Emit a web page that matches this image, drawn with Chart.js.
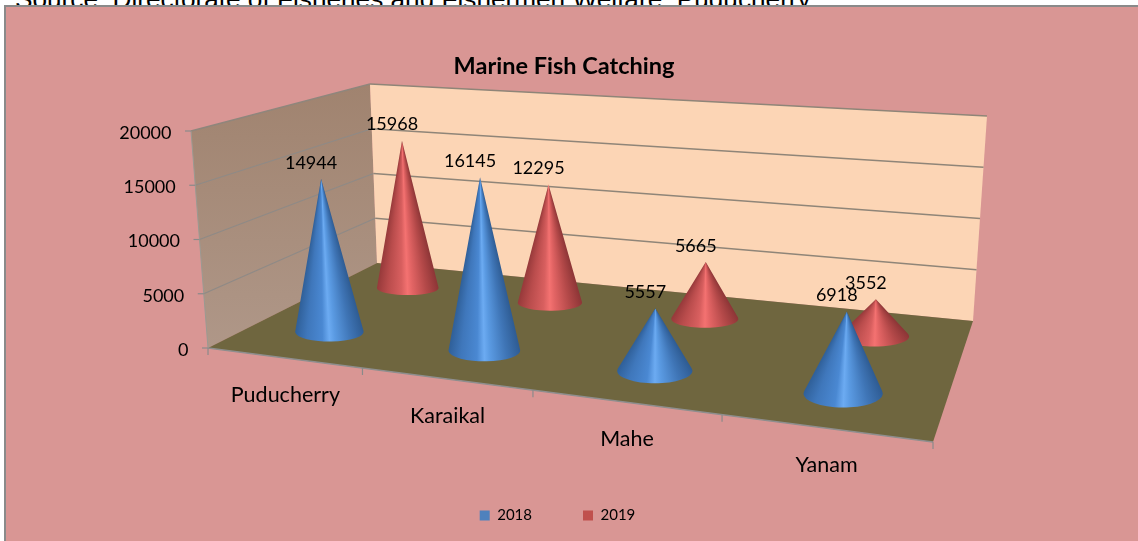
<!DOCTYPE html>
<html><head><meta charset="utf-8">
<script src="https://cdn.jsdelivr.net/npm/chart.js@4"></script>
<style>
html,body{margin:0;padding:0;background:#fff;width:1138px;height:541px;overflow:hidden}
#src{position:absolute;left:15px;top:-16px;font:26.2px "Liberation Sans",Arial,sans-serif;color:#000;white-space:nowrap}
#wrap{position:absolute;left:0;top:0;width:1138px;height:541px}
</style></head><body>
<div id="src">Source: Directorate of Fisheries and Fishermen Welfare, Puducherry</div>
<div id="wrap"><canvas id="c" width="1138" height="541"></canvas></div>
<script>
const categories = ["Puducherry","Karaikal","Mahe","Yanam"];
const seriesNames = ["2018","2019"];
const values2018 = [14944,16145,5557,6918];
const values2019 = [15968,12295,5665,3552];
const yMax = 20000, yStep = 5000;

const FONT = 'Lato, "Open Sans", sans-serif';
const BLUE_STOPS = [[0,'#2f5f98'],[.18,'#3f77bb'],[.4,'#4a88d2'],[.5,'#6cabf2'],[.58,'#5a9ae2'],[.8,'#3f75b6'],[1,'#2e5b92']];
const RED_STOPS  = [[0,'#96393a'],[.18,'#b94c4c'],[.4,'#d85f5f'],[.5,'#f47271'],[.58,'#e26464'],[.8,'#b44949'],[1,'#8c3536']];

// box corners of the 3-D plot frame
const FLOOR = [[208,348],[933,442],[973,321],[377,263]];
const TOP   = [[191,131],[950,175],[987,116],[370,84]];
const VANISH = [615,5575];   // where the verticals of the box meet
const UNIT_HEIGHT = 212;     // full axis height at depth w=1
function homography(q){
  const [p0,p1,p2,p3]=q;
  const dx1=p1[0]-p2[0],dx2=p3[0]-p2[0],sx=p0[0]-p1[0]+p2[0]-p3[0];
  const dy1=p1[1]-p2[1],dy2=p3[1]-p2[1],sy=p0[1]-p1[1]+p2[1]-p3[1];
  const den=dx1*dy2-dx2*dy1;
  const g=(sx*dy2-dx2*sy)/den,h=(dx1*sy-sx*dy1)/den;
  const a=p1[0]-p0[0]+g*p1[0],b=p3[0]-p0[0]+h*p3[0],c=p0[0];
  const d=p1[1]-p0[1]+g*p1[1],e=p3[1]-p0[1]+h*p3[1],f=p0[1];
  return (u,v)=>{const w=g*u+h*v+1;return {x:(a*u+b*v+c)/w,y:(d*u+e*v+f)/w,w};};
}
const floorH=homography(FLOOR), topH=homography(TOP);
function P(u,v,t){
  const a=floorH(u,v),b=topH(u,v);
  return {x:a.x+(b.x-a.x)*t,y:a.y+(b.y-a.y)*t,w:a.w};
}
function apexOf(u,v,t){
  const c=floorH(u,v);
  const H=UNIT_HEIGHT/c.w*t;
  return {x:c.x-(VANISH[0]-c.x)/(VANISH[1]-c.y)*H,y:c.y-H};
}
function poly(ctx,pts,fill){
  ctx.beginPath();pts.forEach((p,i)=>i?ctx.lineTo(p.x,p.y):ctx.moveTo(p.x,p.y));ctx.closePath();
  ctx.fillStyle=fill;ctx.fill();
}
function seg(ctx,pts,color,lw){
  ctx.beginPath();pts.forEach((p,i)=>i?ctx.lineTo(p.x,p.y):ctx.moveTo(p.x,p.y));
  ctx.strokeStyle=color;ctx.lineWidth=lw;ctx.stroke();
}

class ConeController extends Chart.BarController{
  draw(){
    const ctx=this.chart.ctx, meta=this.getMeta(), xs=meta.xScale, ys=meta.yScale;
    const v=(this.index+.5)/this.chart.data.datasets.length;
    const stops=this.index===0?BLUE_STOPS:RED_STOPS;
    meta.data.forEach(el=>{
      const u=(el.x-xs.left)/(xs.right-xs.left);
      const t=(ys.bottom-el.y)/(ys.bottom-ys.top);
      const c=floorH(u,v), tip=apexOf(u,v,t);
      const rx=35.4/c.w, ry=rx*(.28+(c.y-333)*.0012);
      const dy=c.y-tip.y, k=ry/dy;
      const ty=c.y-ry*k, tx=rx*Math.sqrt(1-k*k);
      const aL=Math.atan2(ty-tip.y,c.x-tx-tip.x), aR=Math.atan2(ty-tip.y,c.x+tx-tip.x);
      const grad=ctx.createConicGradient(aR-.001,tip.x,tip.y);
      const span=(aL-aR+.002)/(2*Math.PI);
      // s=0 is the left edge of the cone, s=1 the right edge
      [...stops].reverse().forEach(([s,col])=>grad.addColorStop((1-s)*span,col));
      grad.addColorStop(Math.min(1,span+.001),stops[0][1]);
      grad.addColorStop(1,stops[stops.length-1][1]);
      ctx.save();
      ctx.beginPath();
      ctx.moveTo(tip.x,tip.y);
      ctx.lineTo(c.x+tx,ty);
      ctx.ellipse(c.x,c.y,rx,ry,0,Math.asin(-k),Math.PI-Math.asin(-k));
      ctx.closePath();
      ctx.fillStyle=grad;ctx.fill();
      ctx.restore();
    });
  }
}
ConeController.id='cone';
ConeController.defaults=Chart.BarController.defaults;
ConeController.overrides=Chart.BarController.overrides;
Chart.register(ConeController);

const scene={
  id:'scene',
  afterLayout(chart){
    const l=chart.legend;
    const dy=515-(l.top+51+7), dx=-6.5;
    l.top+=dy;l.bottom+=dy;l.left+=dx;l.right+=dx;
  },
  beforeDraw(chart){
    const ctx=chart.ctx;
    ctx.save();
    ctx.fillStyle='#D99694';ctx.fillRect(5,6,1133,535);
    ctx.strokeStyle='#8a8a8a';ctx.lineWidth=2;ctx.strokeRect(5,6,1160,560);
    ctx.restore();
  },
  beforeDatasetsDraw(chart){
    const ctx=chart.ctx, ys=chart.scales.y;
    const tickT=ys.ticks.map(k=>(ys.bottom-ys.getPixelForValue(k.value))/(ys.bottom-ys.top));
    ctx.save();
    const lw=ctx.createLinearGradient(0,84,0,348);
    lw.addColorStop(0,'#a0836f');lw.addColorStop(1,'#af9788');
    poly(ctx,[P(0,0,0),P(0,0,1),P(0,1,1),P(0,1,0)],lw);
    poly(ctx,[P(0,1,0),P(0,1,1),P(1,1,1),P(1,1,0)],'#FCD5B5');
    tickT.forEach(t=>{
      if(t===0){return;}
      seg(ctx,[P(0,0,t),P(0,1,t)],t===1?'#8f867c':'#8f8a86',1.3);
      seg(ctx,[P(0,1,t),P(1,1,t)],'#8f8578',1.5);
    });
    poly(ctx,[P(0,0,0),P(1,0,0),P(1,1,0),P(0,1,0)],'#6F663F');
    seg(ctx,[P(0,0,0),P(1,0,0)],'#8e8e8e',1.3);
    seg(ctx,[P(0,0,0),P(0,0,1)],'#9a9a92',1);
    // axis tick marks
    tickT.forEach(t=>{const p=P(0,0,t);seg(ctx,[{x:p.x-6,y:p.y},{x:p.x,y:p.y}],'#8a8a8a',1.2);});
    for(let i=0;i<=categories.length;i++){
      const p=P(i/categories.length,0,0);
      seg(ctx,[{x:p.x,y:p.y},{x:p.x,y:p.y+7}],'#8a8a8a',1.2);
    }
    ctx.restore();
  },
  afterDatasetsDraw(chart){
    const ctx=chart.ctx, ys=chart.scales.y, xs=chart.scales.x;
    ctx.save();
    ctx.fillStyle='#000';ctx.textBaseline='middle';
    ctx.font='18px '+FONT;
    // y tick labels
    ctx.textAlign='right';
    ys.ticks.forEach(k=>{
      const py=ys.getPixelForValue(k.value);
      const t=(ys.bottom-py)/(ys.bottom-ys.top);
      ctx.fillText(String(k.value),P(0,0,t).x-19.5,py);
    });
    // value labels
    ctx.textAlign='center';
    chart.data.datasets.forEach((ds,di)=>{
      const v=(di+.5)/chart.data.datasets.length;
      chart.getDatasetMeta(di).data.forEach((el,i)=>{
        const u=(el.x-xs.left)/(xs.right-xs.left);
        const t=(ys.bottom-el.y)/(ys.bottom-ys.top);
        const tip=apexOf(u,v,t);
        ctx.fillText(String(ds.data[i]),tip.x-10,tip.y-16);
      });
    });
    // category labels
    ctx.font='21.5px '+FONT;
    xs.getLabels().forEach((lab,i)=>{
      const u=(xs.getPixelForValue(i)-xs.left)/(xs.right-xs.left);
      const p=P(u,0,0);
      ctx.fillText(lab,p.x+2,p.y+37);
    });
    ctx.restore();
  }
};

new Chart(document.getElementById('c'),{
  type:'cone',
  data:{labels:categories,datasets:[
    {label:seriesNames[0],data:values2018,backgroundColor:'#4F81BD',grouped:false,clip:false},
    {label:seriesNames[1],data:values2019,backgroundColor:'#C0504D',grouped:false,clip:false}
  ]},
  plugins:[scene],
  options:{
    responsive:false,animation:false,
    layout:{padding:{left:184,right:194,top:0,bottom:107}},
    scales:{
      x:{display:true,grid:{display:false},border:{display:false},ticks:{display:false}},
      y:{min:0,max:yMax,ticks:{stepSize:yStep,display:false},grid:{display:false},border:{display:false}}
    },
    plugins:{
      tooltip:{enabled:false},
      title:{display:true,text:'Marine Fish Catching',color:'#000',font:{family:FONT,size:23.5,weight:'bold'},padding:{top:52,bottom:53}},
      legend:{display:true,position:'bottom',labels:{boxWidth:10,boxHeight:10,padding:51,color:'#000',font:{family:FONT,size:15}}}
    }
  }
});
</script></body></html>
